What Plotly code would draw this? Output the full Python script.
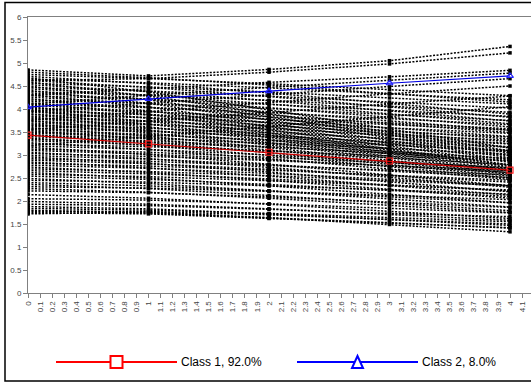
import plotly.graph_objects as go

# ---------------- data ----------------
time_points = [0, 1, 2, 3, 4]

class1_trajectories = [
    [1.72, 1.76, 1.64, 1.49, 1.33],
    [1.75, 1.72, 1.62, 1.52, 1.42],
    [1.78, 1.77, 1.70, 1.60, 1.50],
    [1.80, 1.74, 1.63, 1.53, 1.41],
    [1.84, 1.80, 1.73, 1.64, 1.55],
    [1.88, 1.83, 1.72, 1.60, 1.47],
    [1.93, 1.90, 1.82, 1.73, 1.66],
    [1.99, 1.93, 1.83, 1.71, 1.58],
    [2.05, 2.02, 1.94, 1.84, 1.74],
    [2.14, 2.06, 1.93, 1.78, 1.62],
    [2.22, 2.18, 2.09, 1.98, 1.86],
    [2.27, 2.19, 2.06, 1.91, 1.75],
    [2.31, 2.28, 2.21, 2.12, 2.03],
    [2.36, 2.27, 2.12, 1.96, 1.79],
    [2.40, 2.33, 2.22, 2.09, 1.96],
    [2.45, 2.41, 2.33, 2.24, 2.15],
    [2.49, 2.38, 2.22, 2.05, 1.87],
    [2.54, 2.47, 2.36, 2.23, 2.10],
    [2.58, 2.53, 2.44, 2.34, 2.24],
    [2.62, 2.50, 2.33, 2.15, 1.96],
    [2.66, 2.59, 2.48, 2.35, 2.22],
    [2.70, 2.64, 2.55, 2.44, 2.33],
    [2.74, 2.62, 2.45, 2.26, 2.06],
    [2.78, 2.71, 2.60, 2.47, 2.34],
    [2.82, 2.76, 2.67, 2.56, 2.45],
    [2.85, 2.72, 2.54, 2.34, 2.13],
    [2.89, 2.81, 2.69, 2.55, 2.41],
    [2.92, 2.86, 2.77, 2.67, 2.57],
    [2.96, 2.82, 2.63, 2.42, 2.20],
    [2.99, 2.91, 2.79, 2.65, 2.51],
    [3.03, 2.97, 2.88, 2.77, 2.66],
    [3.06, 2.92, 2.73, 2.52, 2.30],
    [3.10, 3.02, 2.90, 2.76, 2.62],
    [3.13, 3.06, 2.95, 2.83, 2.71],
    [3.17, 3.01, 2.80, 2.57, 2.33],
    [3.20, 3.12, 3.00, 2.86, 2.72],
    [3.24, 3.18, 3.09, 2.98, 2.87],
    [3.27, 3.12, 2.92, 2.70, 2.47],
    [3.31, 3.22, 3.09, 2.94, 2.79],
    [3.34, 3.27, 3.17, 3.05, 2.93],
    [3.37, 3.21, 2.99, 2.75, 2.50],
    [3.40, 3.31, 3.18, 3.03, 2.88],
    [3.43, 3.36, 3.26, 3.14, 3.02],
    [3.45, 3.28, 3.05, 2.80, 2.54],
    [3.48, 3.38, 3.24, 3.08, 2.92],
    [3.50, 3.43, 3.33, 3.21, 3.09],
    [3.53, 3.35, 3.11, 2.85, 2.58],
    [3.55, 3.45, 3.31, 3.15, 2.99],
    [3.58, 3.51, 3.41, 3.29, 3.17],
    [3.60, 3.41, 3.16, 2.89, 2.61],
    [3.63, 3.53, 3.39, 3.23, 3.07],
    [3.65, 3.58, 3.48, 3.36, 3.24],
    [3.68, 3.48, 3.22, 2.94, 2.65],
    [3.70, 3.59, 3.44, 3.27, 3.10],
    [3.73, 3.66, 3.56, 3.44, 3.32],
    [3.75, 3.54, 3.27, 2.98, 2.68],
    [3.78, 3.67, 3.52, 3.35, 3.18],
    [3.80, 3.73, 3.63, 3.51, 3.39],
    [3.83, 3.61, 3.33, 3.03, 2.72],
    [3.85, 3.74, 3.59, 3.42, 3.25],
    [3.88, 3.81, 3.71, 3.59, 3.47],
    [3.90, 3.67, 3.38, 3.07, 2.75],
    [3.93, 3.81, 3.65, 3.47, 3.29],
    [3.95, 3.88, 3.78, 3.66, 3.54],
    [3.97, 3.73, 3.43, 3.11, 2.78],
    [3.99, 3.87, 3.71, 3.53, 3.35],
    [4.02, 3.94, 3.83, 3.70, 3.57],
    [4.05, 3.80, 3.48, 3.14, 2.79],
    [4.08, 3.95, 3.78, 3.59, 3.40],
    [4.11, 4.03, 3.92, 3.79, 3.66],
    [4.14, 3.88, 3.55, 3.20, 2.84],
    [4.17, 4.04, 3.87, 3.68, 3.49],
    [4.20, 4.12, 4.01, 3.88, 3.75],
    [4.23, 3.96, 3.62, 3.26, 2.89],
    [4.26, 4.12, 3.94, 3.74, 3.54],
    [4.29, 4.21, 4.10, 3.97, 3.84],
    [4.32, 4.04, 3.69, 3.32, 2.94],
    [4.35, 4.21, 4.03, 3.82, 3.61],
    [4.38, 4.30, 4.19, 4.06, 3.93],
    [4.41, 4.12, 3.76, 3.38, 2.99],
    [4.44, 4.30, 4.11, 3.90, 3.68],
    [4.47, 4.39, 4.28, 4.15, 4.02],
    [4.50, 4.20, 3.83, 3.44, 3.04],
    [4.53, 4.38, 4.18, 3.96, 3.74],
    [4.56, 4.48, 4.37, 4.24, 4.11],
    [4.59, 4.28, 3.90, 3.50, 3.09],
    [4.62, 4.47, 4.27, 4.05, 3.82],
    [4.65, 4.57, 4.46, 4.33, 4.20],
    [4.68, 4.37, 3.98, 3.57, 3.15],
    [4.71, 4.55, 4.35, 4.12, 3.89],
    [4.75, 4.66, 4.55, 4.42, 4.29],
    [4.80, 4.68, 4.52, 4.34, 4.15],
]

class2_trajectories = [
    [4.85, 4.72, 4.86, 5.05, 5.36],
    [4.62, 4.66, 4.80, 4.98, 5.22],
    [4.30, 4.44, 4.58, 4.70, 4.84],
    [4.10, 4.30, 4.47, 4.63, 4.78],
    [3.95, 4.13, 4.32, 4.49, 4.66],
    [3.75, 3.95, 4.14, 4.33, 4.50],
    [3.55, 3.74, 3.93, 4.11, 4.28],
    [3.20, 3.40, 3.62, 3.84, 4.05],
]

class1_mean = [3.43, 3.24, 3.06, 2.87, 2.67]
class2_mean = [4.04, 4.22, 4.39, 4.56, 4.72]

legend_labels = ["Class 1, 92.0%", "Class 2, 8.0%"]

x_tick_values = [i / 10 for i in range(0, 42)]
x_tick_labels = ["0", "0.1", "0.2", "0.3", "0.4", "0.5", "0.6", "0.7", "0.8", "0.9",
                 "1", "1.1", "1.2", "1.3", "1.4", "1.5", "1.6", "1.7", "1.8", "1.9",
                 "2", "2.1", "2.2", "2.3", "2.4", "2.5", "2.6", "2.7", "2.8", "2.9",
                 "3", "3.1", "3.2", "3.3", "3.4", "3.5", "3.6", "3.7", "3.8", "3.9",
                 "4", "4.1"]
y_tick_values = [0, 0.5, 1, 1.5, 2, 2.5, 3, 3.5, 4, 4.5, 5, 5.5, 6]
y_tick_labels = ["0", "0.5", "1", "1.5", "2", "2.5", "3", "3.5", "4", "4.5", "5", "5.5", "6"]

# ---------------- figure ----------------
W, H = 531, 383
ML, MR, MT, MB = 28, 0, 17, 90
PW, PH = W - ML - MR, H - MT - MB

def px_x(p):
    return (p - ML) / PW

def px_y(p):
    return (H - MB - p) / PH

fig = go.Figure()

for row in class1_trajectories + class2_trajectories:
    fig.add_trace(go.Scatter(
        x=time_points, y=row, mode="lines+markers",
        line=dict(color="black", width=1.5, dash="2px,1.5px"),
        marker=dict(size=3.5, color="black", symbol="square"),
        showlegend=False, hoverinfo="skip"))

fig.add_trace(go.Scatter(
    x=time_points, y=class1_mean, mode="lines+markers", name=legend_labels[0],
    line=dict(color="#d00000", width=1.2),
    marker=dict(symbol="square-open", size=6, color="#ff2020", line=dict(width=1.2)),
    showlegend=False))
fig.add_trace(go.Scatter(
    x=time_points, y=class2_mean, mode="lines+markers", name=legend_labels[1],
    line=dict(color="#0000e0", width=1.2),
    marker=dict(symbol="triangle-up-open", size=6, color="#2020ff", line=dict(width=1.2)),
    showlegend=False))

tick_font = dict(family="Liberation Sans, Arial", size=8, color="#444")

fig.update_layout(
    width=W, height=H,
    margin=dict(l=ML, r=MR, t=MT, b=MB, pad=0),
    paper_bgcolor="white", plot_bgcolor="white",
    showlegend=False,
    xaxis=dict(range=[0, PW / 120.5], tickmode="array", tickvals=x_tick_values,
               ticktext=x_tick_labels, tickangle=-90, ticks="outside", ticklen=4,
               tickcolor="#808080", showline=True, linecolor="#808080", linewidth=1,
               mirror=True, showgrid=False, zeroline=False, tickfont=tick_font,
               automargin=False),
    yaxis=dict(range=[0, 6], tickmode="array", tickvals=y_tick_values,
               ticktext=y_tick_labels, ticks="outside", ticklen=4,
               tickcolor="#808080", showline=True, linecolor="#808080", linewidth=1,
               showgrid=False, zeroline=False, tickfont=tick_font,
               automargin=False),
)

shapes = []
# outer frame
shapes.append(dict(type="rect", xref="paper", yref="paper",
                   x0=px_x(5), x1=px_x(560), y0=px_y(381), y1=px_y(2.5),
                   line=dict(color="black", width=1.5), fillcolor="rgba(0,0,0,0)"))

# custom legend
leg_y = 362
items = [
    (56, 177, "#ff0000", "square", legend_labels[0]),
    (297, 418, "#0000ff", "triangle", legend_labels[1]),
]
annotations = []
for x0, x1, col, sym, label in items:
    shapes.append(dict(type="line", xref="paper", yref="paper",
                       x0=px_x(x0), x1=px_x(x1), y0=px_y(leg_y), y1=px_y(leg_y),
                       line=dict(color=col, width=2)))
    cx = (x0 + x1) / 2
    if sym == "square":
        shapes.append(dict(type="rect", xref="paper", yref="paper",
                           x0=px_x(cx - 6), x1=px_x(cx + 6),
                           y0=px_y(leg_y + 6), y1=px_y(leg_y - 6),
                           line=dict(color=col, width=2), fillcolor="white"))
    else:
        path = "M{},{} L{},{} L{},{} Z".format(
            px_x(cx), px_y(leg_y - 6), px_x(cx - 5.5), px_y(leg_y + 6),
            px_x(cx + 5.5), px_y(leg_y + 6))
        shapes.append(dict(type="path", xref="paper", yref="paper", path=path,
                           line=dict(color=col, width=2), fillcolor="white"))
    annotations.append(dict(x=px_x(x1 + 2), y=px_y(leg_y), xref="paper", yref="paper",
                            text=label, showarrow=False, xanchor="left", yanchor="middle",
                            font=dict(family="Liberation Sans, Arial", size=12, color="black")))

fig.update_layout(shapes=shapes, annotations=annotations)

fig.write_html("out.html", config={"displayModeBar": False},
               post_script="document.body.style.margin='0';document.body.style.padding='0';")
